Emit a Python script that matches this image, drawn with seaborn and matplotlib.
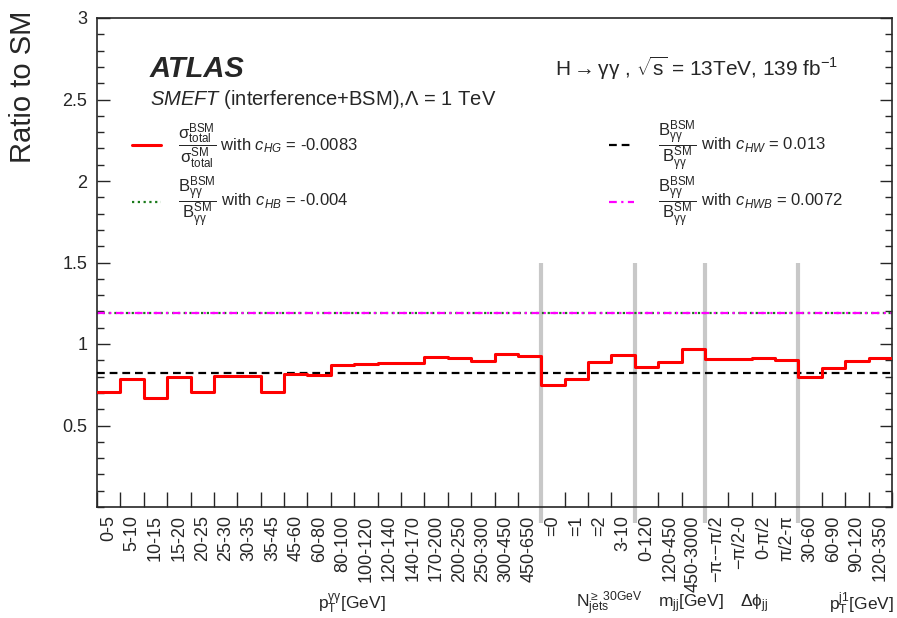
import numpy as np
import pandas as pd
import matplotlib
matplotlib.use("Agg")
import matplotlib.pyplot as plt
from matplotlib.ticker import MultipleLocator
import matplotlib.transforms as mtrans
import seaborn as sns

# ---------------- data ----------------
bin_labels = ["0-5", "5-10", "10-15", "15-20", "20-25", "25-30", "30-35", "35-45",
              "45-60", "60-80", "80-100", "100-120", "120-140", "140-170", "170-200",
              "200-250", "250-300", "300-450", "450-650",
              "=0", "=1", "=2", "3-10",
              "0-120", "120-450", "450-3000",
              "\u2212\u03c0-\u2212\u03c0/2", "\u2212\u03c0/2-0", "0-\u03c0/2", "\u03c0/2-\u03c0",
              "30-60", "60-90", "90-120", "120-350"]
ratio_cHG = [0.707, 0.783, 0.671, 0.796, 0.707, 0.804, 0.804, 0.704,
             0.818, 0.812, 0.869, 0.877, 0.885, 0.885, 0.922,
             0.916, 0.894, 0.939, 0.925,
             0.748, 0.783, 0.892, 0.930,
             0.861, 0.888, 0.967,
             0.906, 0.910, 0.916, 0.902,
             0.796, 0.853, 0.898, 0.912]
group_names = [r"$\mathregular{p_{T}^{\gamma\gamma}}$[GeV]",
               r"$\mathregular{N_{jets}^{\geq\ 30GeV}}$",
               r"$\mathregular{m_{jj}}$[GeV]",
               r"$\mathregular{\Delta\phi_{jj}}$",
               r"$\mathregular{p_{T}^{j1}}$[GeV]"]
group_sizes = [19, 4, 3, 4, 4]
group_label_pos = [10.9, 21.9, 25.4, 28.1, 32.7]
ratio_cHW = 0.824
ratio_cHB = 1.190
ratio_cHWB = 1.190

# ---------------- style ----------------
sns.set_style("ticks")
plt.rcParams["font.family"] = ["Liberation Sans", "DejaVu Sans"]
plt.rcParams["mathtext.fontset"] = "custom"
plt.rcParams["mathtext.rm"] = "Liberation Sans"
plt.rcParams["mathtext.it"] = "Liberation Sans:italic"
plt.rcParams["mathtext.bf"] = "Liberation Sans:bold"
plt.rcParams["mathtext.sf"] = "Liberation Sans"

fig = plt.figure(figsize=(8.97, 6.18), dpi=100)
ax = fig.add_axes([97 / 897, 111 / 618, 795 / 897, 489 / 618])

nb = len(bin_labels)
edges = np.arange(nb + 1)

# separators
seps = np.cumsum(group_sizes)[:-1]
for s in seps:
    ax.plot([s, s], [-0.098, 1.5], color="#c8c8c8", lw=3.0, clip_on=False,
            zorder=1, solid_capstyle="butt")

# horizontal reference lines
ls_dot = (0, (1, 1.6))
ls_dashdot = (0, (3.5, 2, 1, 2))
ls_dash = (0, (3.5, 2.2))
ax.axhline(ratio_cHB, color="#1a7a1a", lw=1.6, ls=ls_dot, zorder=2)
ax.axhline(ratio_cHWB, color="#ff00ff", lw=1.6, ls=ls_dashdot, zorder=2)
ax.axhline(ratio_cHW, color="black", lw=1.6, ls=ls_dash, zorder=3)

# step line
df = pd.DataFrame({"x": edges, "y": list(ratio_cHG) + [ratio_cHG[-1]]})
sns.lineplot(data=df, x="x", y="y", ax=ax, color="red", lw=2.2,
             drawstyle="steps-post", estimator=None, zorder=4)

ax.set_xlim(0, nb)
ax.set_ylim(0, 3)
ax.set_xlabel("")
ax.set_ylabel("")

ax.set_xticks(np.arange(nb) + 0.5)
ax.set_xticklabels(bin_labels, rotation=90, fontsize=13)
ax.set_xticks(edges, minor=True)
ax.tick_params(axis="x", which="major", length=0, pad=6)
ax.tick_params(axis="x", which="minor", length=11, width=1, direction="in", top=False)

ax.set_yticks([0.5, 1, 1.5, 2, 2.5, 3])
ax.set_yticklabels(["0.5", "1", "1.5", "2", "2.5", "3"], fontsize=13)
ax.yaxis.set_minor_locator(MultipleLocator(0.1))
ax.tick_params(axis="y", which="major", length=9, width=1, direction="in", right=True, pad=7)
ax.tick_params(axis="y", which="minor", length=5, width=1, direction="in", right=True)
for sp in ax.spines.values():
    sp.set_linewidth(1.2)
    sp.set_visible(True)

# group labels under axis
trans = mtrans.blended_transform_factory(ax.transData, ax.transAxes)
for name, pos in zip(group_names, group_label_pos):
    ax.text(pos, -0.198, name, transform=trans, ha="center", va="center", fontsize=12.5)

fig.text(23 / 897, 1 - 11 / 618, "Ratio to SM", rotation=90, ha="center", va="top", fontsize=21)

# header
ax.text(0.0667, 0.879, "ATLAS", transform=ax.transAxes, fontsize=21,
        fontweight="bold", fontstyle="italic", ha="left", va="baseline")
ax.text(0.0667, 0.822, r"$\mathit{SMEFT}$ (interference+BSM),$\Lambda$ = 1 TeV",
        transform=ax.transAxes, fontsize=14.5, ha="left", va="baseline")
ax.text(0.933, 0.882,
        "H" + r"$\rightarrow$" + "\u03b3\u03b3 , " + r"$\sqrt{\mathrm{s}}$" + " = 13TeV, 139 fb" + r"$^{\mathrm{-1}}$",
        transform=ax.transAxes, fontsize=15, ha="right", va="baseline")

# legend (manual)
frac_sigma = r"$\dfrac{\mathrm{\sigma}^{\mathrm{BSM}}_{\mathrm{total}}}{\mathrm{\sigma}^{\mathrm{SM}}_{\mathrm{total}}}$"
frac_B = r"$\dfrac{\mathrm{B}^{\mathrm{BSM}}_{\mathrm{\gamma\gamma}}}{\mathrm{B}^{\mathrm{SM}}_{\mathrm{\gamma\gamma}}}$"
entries = [
    (0.044, 0.081, 0.102, 0.740, dict(color="red", lw=2.2, ls="-"),
     frac_sigma + r" with $c_{HG}$ = -0.0083"),
    (0.044, 0.081, 0.102, 0.624, dict(color="#1a7a1a", lw=1.6, ls=ls_dot),
     frac_B + r" with $c_{HB}$ = -0.004"),
    (0.644, 0.675, 0.706, 0.740, dict(color="black", lw=1.6, ls=ls_dash),
     frac_B + r" with $c_{HW}$ = 0.013"),
    (0.644, 0.675, 0.706, 0.624, dict(color="#ff00ff", lw=1.6, ls=ls_dashdot),
     frac_B + r" with $c_{HWB}$ = 0.0072"),
]
for x0, x1, xt, y, st, lab in entries:
    ax.plot([x0, x1], [y, y], transform=ax.transAxes, **st)
    ax.text(xt, y, lab, transform=ax.transAxes, fontsize=12, ha="left", va="center")

fig.savefig("out.png", dpi=100)
